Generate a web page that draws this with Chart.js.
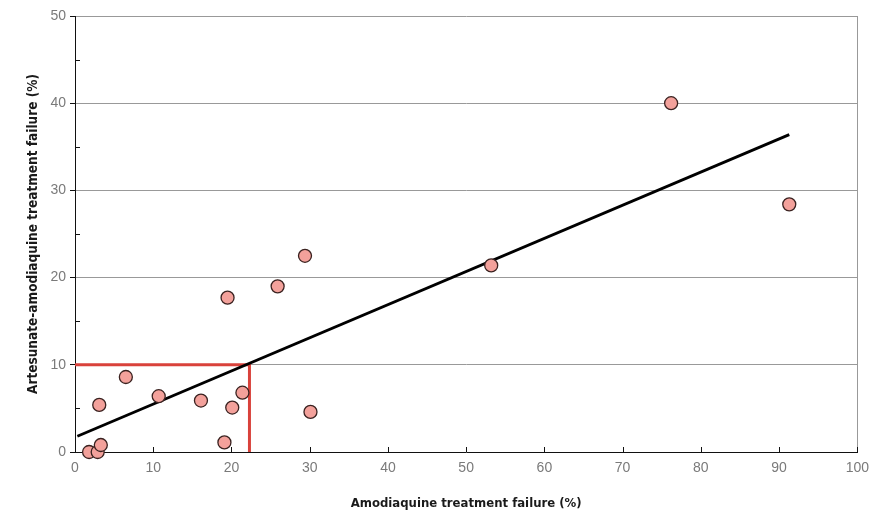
<!DOCTYPE html>
<html>
<head>
<meta charset="utf-8">
<script src="https://cdn.jsdelivr.net/npm/chart.js@4.4.0/dist/chart.umd.min.js"></script>
<style>
html,body{margin:0;padding:0;background:#fff;}
#wrap{width:877px;height:511px;position:relative;}
</style>
</head>
<body>
<div id="wrap"><canvas id="c" width="877" height="511"></canvas></div>
<script>
// Data
const amodiaquineFailure = [1.8, 2.9, 3.3, 3.1, 6.5, 10.7, 16.1, 19.1, 19.5, 20.1, 21.4, 25.9, 29.4, 30.1, 53.2, 76.2, 91.3];
const artesunateAmodiaquineFailure = [0.0, 0.0, 0.8, 5.4, 8.6, 6.4, 5.9, 1.1, 17.7, 5.1, 6.8, 19.0, 22.5, 4.6, 21.4, 40.0, 28.4];
const trendX = [0.3, 91.3];
const trendY = [1.8, 36.4];
const thresholdX = [0, 22.3, 22.3];
const thresholdY = [10, 10, 0];
const xTicks = [0, 10, 20, 30, 40, 50, 60, 70, 80, 90, 100];
const yTicks = [0, 10, 20, 30, 40, 50];
const yMinorTicks = [5, 15, 25, 35, 45];
const xTitle = 'Amodiaquine treatment failure (%)';
const yTitle = 'Artesunate-amodiaquine treatment failure (%)';

const scatterPts = amodiaquineFailure.map((x, i) => ({x, y: artesunateAmodiaquineFailure[i]}));
const trendPts = trendX.map((x, i) => ({x, y: trendY[i]}));
const thresholdPts = thresholdX.map((x, i) => ({x, y: thresholdY[i]}));

const inwardTicks = {
  id: 'inwardTicks',
  afterDatasetsDraw(chart) {
    const {ctx, scales: {x, y}} = chart;
    ctx.save();
    ctx.strokeStyle = '#111';
    ctx.lineWidth = 1;
    ctx.beginPath();
    xTicks.forEach(v => {
      if (v === 0) return;
      const px = Math.round(x.getPixelForValue(v)) + 0.5;
      ctx.moveTo(px, y.bottom);
      ctx.lineTo(px, y.bottom - 5);
    });
    yMinorTicks.forEach(v => {
      const py = Math.round(y.getPixelForValue(v)) + 0.5;
      ctx.moveTo(x.left, py);
      ctx.lineTo(x.left + 5, py);
    });
    ctx.stroke();
    ctx.restore();
  }
};

const titleFont = {family: '"Liberation Sans Narrow", "Arial Narrow", "DejaVu Sans Condensed", sans-serif', size: 13, weight: 'bold'};
const yTitleFont = {family: '"Liberation Sans Narrow", "Arial Narrow", "DejaVu Sans Condensed", sans-serif', size: 13.5, weight: 'bold'};
const tickFont = {family: '"Liberation Sans", Arial, sans-serif', size: 14};

new Chart(document.getElementById('c'), {
  data: {
    datasets: [
      {
        type: 'line',
        data: thresholdPts,
        borderColor: '#d9423b',
        borderWidth: 3,
        pointRadius: 0,
        fill: false,
        tension: 0,
        order: 3
      },
      {
        type: 'line',
        data: trendPts,
        borderColor: '#000',
        borderWidth: 2.8,
        pointRadius: 0,
        fill: false,
        tension: 0,
        order: 2
      },
      {
        type: 'scatter',
        data: scatterPts,
        backgroundColor: '#f3a19b',
        borderColor: '#3a2220',
        borderWidth: 1.3,
        pointRadius: 6.5,
        pointHoverRadius: 6.5,
        clip: false,
        order: 1
      }
    ]
  },
  options: {
    responsive: false,
    animation: false,
    events: [],
    layout: {padding: {top: 16, right: 18, bottom: 0, left: 0}},
    plugins: {legend: {display: false}, tooltip: {enabled: false}},
    scales: {
      x: {
        type: 'linear',
        min: 0, max: 100,
        afterBuildTicks(s) { s.ticks = xTicks.map(v => ({value: v})); },
        afterFit(s) { s.height = 59; },
        border: {color: '#111', width: 1},
        grid: {
          drawTicks: false,
          color: ctx => (ctx.tick && ctx.tick.value === 100) ? '#999' : 'rgba(0,0,0,0)',
          lineWidth: 1
        },
        ticks: {color: '#7a7a7a', font: tickFont, padding: 8, maxRotation: 0},
        title: {display: true, text: xTitle, color: '#1a1a1a', font: titleFont, padding: {top: 0, bottom: 0}}
      },
      y: {
        type: 'linear',
        min: 0, max: 50,
        afterBuildTicks(s) { s.ticks = yTicks.map(v => ({value: v})); },
        afterFit(s) { s.width = 75; },
        border: {color: '#111', width: 1},
        grid: {
          color: ctx => (ctx.tick && ctx.tick.value === 0) ? 'rgba(0,0,0,0)' : '#999',
          tickColor: '#111',
          tickLength: 5,
          lineWidth: 1
        },
        ticks: {color: '#7a7a7a', font: tickFont, padding: 4},
        title: {display: true, text: yTitle, color: '#1a1a1a', font: yTitleFont, padding: {top: 25, bottom: 0}}
      }
    }
  },
  plugins: [inwardTicks]
});
</script>
</body>
</html>
